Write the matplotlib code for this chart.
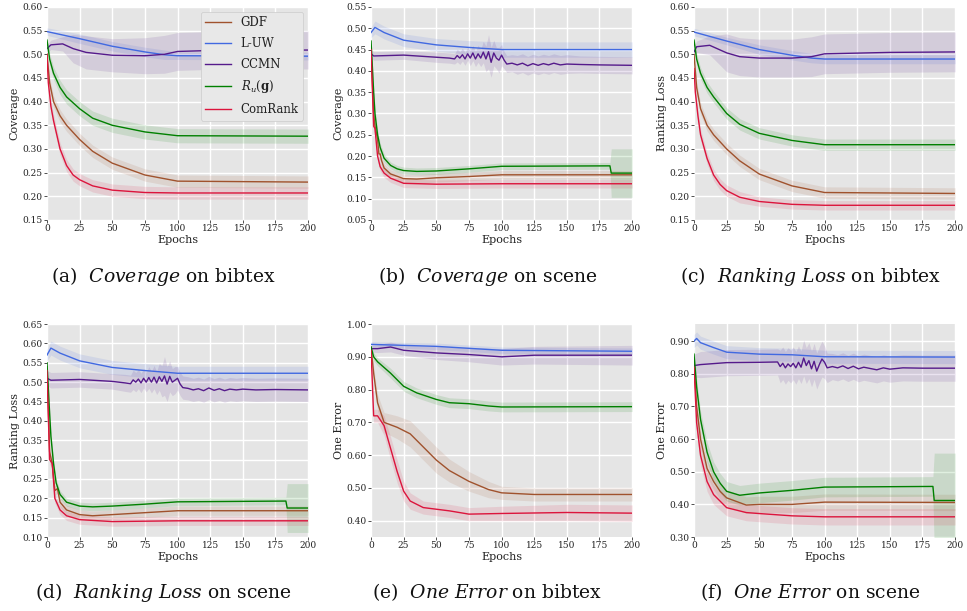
import numpy as np
import matplotlib
matplotlib.use("Agg")
import matplotlib.pyplot as plt

plt.style.use("ggplot")
plt.rcParams["font.family"] = ["DejaVu Serif"]
plt.rcParams["mathtext.fontset"] = "dejavuserif"

methods = ["GDF", "L-UW", "CCMN", r"$R_u(\mathbf{g})$", "ComRank"]
colors = ["#A0522D", "#4169E1", "#551A8B", "#008000", "#DC143C"]

# (epoch, mean, half width of shaded band)
# (a) Coverage on bibtex
a_gdf = [(0, .500, .010), (2, .440, .012), (5, .400, .012), (10, .370, .013), (15, .350, .013), (25, .320, .013),
         (35, .295, .013), (50, .270, .013), (75, .245, .013), (100, .232, .013), (200, .230, .013)]
a_luw = [(0, .548, .008), (25, .533, .010), (50, .517, .010), (75, .505, .010), (90, .499, .010), (100, .497, .008),
         (200, .496, .008)]
a_ccmn = [(0, .512, .008), (3, .520, .010), (12, .522, .015), (20, .512, .030), (30, .504, .035), (50, .498, .035),
          (75, .497, .038), (90, .500, .040), (100, .506, .040), (125, .508, .040), (200, .509, .040)]
a_ru = [(0, .530, .010), (2, .490, .012), (5, .460, .013), (10, .430, .015), (15, .410, .015), (25, .385, .015),
        (35, .365, .015), (50, .350, .015), (75, .336, .015), (100, .328, .015), (200, .327, .015)]
a_com = [(0, .500, .010), (1, .440, .012), (3, .390, .013), (5, .360, .013), (10, .300, .013), (15, .265, .013),
         (20, .245, .013), (25, .235, .013), (35, .222, .013), (50, .213, .013), (75, .208, .013), (100, .207, .013),
         (200, .207, .013)]

# (b) Coverage on scene
b_gdf = [(0, .450, .010), (2, .300, .012), (3, .270, .012), (5, .240, .012), (6, .205, .012), (7, .205, .012),
         (8, .190, .012), (10, .172, .010), (15, .158, .010), (25, .147, .010), (35, .146, .010), (50, .149, .010),
         (75, .152, .010), (100, .156, .010), (200, .156, .010)]
b_luw = [(0, .490, .012), (3, .502, .015), (10, .490, .015), (25, .472, .015), (50, .461, .015), (75, .455, .016),
         (100, .450, .018), (200, .450, .018)]
b_ccmn = [(0, .440, .010), (2, .435, .010), (25, .437, .010), (50, .432, .012), (60, .430, .012), (64, .428, .012),
          (66, .436, .015), (68, .430, .015), (70, .438, .015), (72, .428, .015), (74, .440, .015), (76, .430, .018),
          (78, .442, .018), (80, .428, .018), (82, .440, .020), (84, .430, .020), (86, .444, .025), (88, .428, .030),
          (90, .445, .040), (92, .420, .035), (94, .442, .030), (96, .430, .025), (98, .425, .030), (100, .437, .025),
          (102, .425, .020), (104, .416, .020), (108, .418, .020), (112, .414, .022), (116, .418, .022),
          (120, .412, .022), (124, .417, .022), (128, .413, .022), (132, .417, .022), (136, .414, .022),
          (140, .418, .022), (145, .414, .022), (150, .416, .022), (160, .415, .020), (175, .414, .020),
          (200, .413, .020)]
b_ru = [(0, .470, .010), (2, .350, .012), (3, .300, .012), (5, .250, .012), (7, .220, .010), (10, .195, .010),
        (15, .178, .008), (20, .170, .008), (25, .166, .008), (35, .164, .008), (50, .165, .008), (75, .170, .008),
        (100, .176, .008), (183, .177, .008), (184, .160, .057), (200, .160, .057)]
b_com = [(0, .450, .010), (2, .270, .012), (3, .265, .012), (5, .200, .012), (7, .175, .010), (10, .160, .010),
         (15, .148, .010), (25, .136, .010), (50, .134, .010), (100, .135, .010), (200, .135, .010)]

# (c) Ranking Loss on bibtex
c_gdf = [(0, .500, .010), (2, .430, .012), (5, .385, .012), (10, .350, .012), (15, .330, .012), (25, .300, .012),
         (35, .275, .012), (50, .247, .012), (75, .222, .012), (100, .208, .012), (200, .206, .012)]
c_luw = [(0, .547, .008), (25, .528, .008), (50, .510, .010), (75, .498, .010), (90, .492, .010), (100, .490, .010),
         (200, .490, .010)]
c_ccmn = [(0, .505, .010), (2, .516, .012), (12, .519, .020), (25, .503, .040), (35, .495, .040), (50, .492, .040),
          (75, .492, .040), (90, .495, .042), (100, .501, .042), (150, .504, .042), (200, .505, .042)]
c_ru = [(0, .530, .010), (2, .490, .012), (5, .460, .012), (10, .430, .012), (15, .410, .012), (25, .375, .012),
        (35, .352, .012), (50, .333, .012), (75, .318, .012), (100, .309, .012), (200, .309, .012)]
c_com = [(0, .470, .010), (1, .420, .012), (3, .370, .012), (5, .330, .012), (10, .280, .012), (15, .245, .012),
         (20, .225, .012), (25, .212, .012), (35, .198, .012), (50, .189, .010), (75, .183, .010), (100, .181, .010),
         (200, .181, .010)]

# (d) Ranking Loss on scene
d_gdf = [(0, .540, .010), (2, .320, .012), (4, .290, .012), (6, .220, .012), (8, .225, .012), (10, .190, .012),
         (15, .170, .012), (25, .158, .012), (35, .155, .012), (50, .158, .012), (75, .163, .012), (100, .168, .012),
         (200, .168, .012)]
d_luw = [(0, .570, .015), (3, .588, .018), (10, .575, .018), (25, .555, .018), (50, .538, .018), (75, .530, .018),
         (100, .523, .018), (200, .523, .018)]
d_ccmn = [(0, .510, .020), (3, .505, .020), (25, .507, .020), (50, .502, .020), (60, .498, .022), (64, .496, .022),
          (66, .506, .025), (68, .500, .025), (70, .508, .025), (72, .498, .025), (74, .510, .025), (76, .500, .025),
          (78, .512, .028), (80, .500, .028), (82, .513, .030), (84, .498, .030), (86, .514, .035), (88, .502, .040),
          (90, .516, .050), (92, .495, .045), (94, .515, .040), (96, .500, .035), (98, .505, .035), (100, .510, .030),
          (102, .495, .030), (104, .486, .030), (108, .484, .030), (112, .480, .030), (116, .483, .030),
          (120, .478, .030), (124, .485, .030), (128, .479, .030), (132, .483, .030), (136, .478, .030),
          (140, .482, .030), (145, .480, .030), (150, .482, .030), (160, .480, .030), (175, .481, .030),
          (200, .480, .030)]
d_ru = [(0, .550, .010), (2, .420, .012), (3, .360, .012), (5, .290, .012), (7, .240, .010), (10, .210, .010),
        (15, .190, .010), (25, .180, .010), (35, .178, .010), (50, .180, .010), (75, .185, .010), (100, .191, .010),
        (183, .193, .010), (184, .175, .063), (200, .175, .063)]
d_com = [(0, .530, .010), (2, .300, .012), (4, .290, .012), (6, .200, .012), (10, .170, .012), (15, .155, .012),
         (25, .145, .012), (50, .140, .012), (100, .142, .012), (200, .142, .012)]

# (e) One Error on bibtex
e_gdf = [(0, .930, .010), (2, .850, .020), (5, .760, .025), (10, .700, .030), (20, .685, .035), (30, .665, .040),
         (40, .625, .040), (50, .585, .040), (60, .553, .035), (75, .520, .030), (90, .495, .025), (100, .485, .020),
         (125, .480, .020), (200, .480, .020)]
e_luw = [(0, .938, .008), (50, .932, .010), (100, .920, .010), (200, .917, .010)]
e_ccmn = [(0, .925, .010), (5, .925, .012), (15, .930, .015), (25, .920, .015), (50, .912, .020), (75, .907, .022),
          (100, .900, .025), (125, .905, .027), (200, .905, .030)]
e_ru = [(0, .930, .010), (2, .900, .012), (5, .885, .012), (15, .850, .015), (25, .810, .015), (35, .790, .015),
        (50, .770, .015), (60, .760, .015), (75, .757, .015), (90, .750, .015), (100, .747, .015), (200, .748, .015)]
e_com = [(0, .920, .010), (2, .720, .020), (5, .720, .020), (10, .690, .030), (15, .620, .035), (20, .550, .035),
         (25, .490, .030), (30, .460, .025), (40, .440, .020), (50, .435, .020), (60, .430, .020), (75, .420, .020),
         (100, .422, .022), (150, .425, .025), (200, .423, .025)]

# (f) One Error on scene
f_gdf = [(0, .840, .020), (2, .700, .025), (5, .600, .025), (10, .510, .025), (15, .470, .025), (20, .440, .025),
         (25, .420, .025), (40, .398, .025), (50, .400, .025), (75, .400, .025), (100, .407, .025), (200, .406, .025)]
f_luw = [(0, .900, .020), (2, .908, .020), (5, .895, .020), (15, .880, .020), (25, .866, .020), (50, .860, .020),
         (75, .858, .020), (100, .852, .020), (200, .851, .020)]
f_ccmn = [(0, .825, .035), (5, .828, .040), (25, .834, .040), (50, .835, .040), (64, .836, .040), (66, .822, .050),
          (68, .832, .050), (70, .818, .050), (72, .830, .050), (74, .822, .050), (76, .832, .050), (78, .818, .050),
          (80, .835, .050), (82, .820, .050), (84, .848, .055), (86, .825, .055), (88, .840, .055), (90, .815, .055),
          (92, .838, .055), (94, .808, .055), (96, .828, .055), (98, .845, .055), (100, .835, .050),
          (102, .818, .045), (106, .822, .040), (110, .818, .040), (114, .824, .040), (118, .816, .040),
          (122, .823, .040), (126, .815, .040), (130, .820, .040), (135, .816, .040), (140, .812, .040),
          (145, .818, .040), (150, .814, .040), (160, .818, .040), (175, .817, .040), (200, .817, .040)]
f_ru = [(0, .860, .020), (2, .760, .025), (5, .660, .025), (10, .560, .030), (15, .500, .030), (20, .465, .030),
        (25, .440, .030), (35, .428, .030), (50, .435, .030), (75, .443, .030), (100, .453, .030), (183, .455, .030),
        (184, .412, .145), (200, .412, .145)]
f_com = [(0, .820, .025), (2, .650, .030), (5, .550, .030), (10, .470, .030), (15, .430, .030), (25, .390, .025),
         (40, .375, .025), (50, .372, .025), (75, .365, .025), (100, .362, .025), (200, .362, .025)]

panels = [
    ([a_gdf, a_luw, a_ccmn, a_ru, a_com], "Coverage", (0.15, 0.60), np.arange(0.15, 0.601, 0.05),
     "(a)  $\\mathit{Coverage}$ on bibtex"),
    ([b_gdf, b_luw, b_ccmn, b_ru, b_com], "Coverage", (0.05, 0.55), np.arange(0.05, 0.551, 0.05),
     "(b)  $\\mathit{Coverage}$ on scene"),
    ([c_gdf, c_luw, c_ccmn, c_ru, c_com], "Ranking Loss", (0.15, 0.60), np.arange(0.15, 0.601, 0.05),
     "(c)  $\\mathit{Ranking\\ Loss}$ on bibtex"),
    ([d_gdf, d_luw, d_ccmn, d_ru, d_com], "Ranking Loss", (0.10, 0.65), np.arange(0.10, 0.651, 0.05),
     "(d)  $\\mathit{Ranking\\ Loss}$ on scene"),
    ([e_gdf, e_luw, e_ccmn, e_ru, e_com], "One Error", (0.35, 1.00), np.arange(0.40, 1.001, 0.10),
     "(e)  $\\mathit{One\\ Error}$ on bibtex"),
    ([f_gdf, f_luw, f_ccmn, f_ru, f_com], "One Error", (0.30, 0.952), np.arange(0.30, 0.901, 0.10),
     "(f)  $\\mathit{One\\ Error}$ on scene"),
]

fig = plt.figure(figsize=(9.67, 6.11), dpi=100)
fig.patch.set_facecolor("white")

lefts = [0.0486, 0.3837, 0.7177]
bottoms = [0.640, 0.121]
w, h = 0.270, 0.3486

for i, (series, ylab, ylim, yticks, caption) in enumerate(panels):
    row, col = divmod(i, 3)
    ax = fig.add_axes([lefts[col], bottoms[row], w, h])
    ax.set_facecolor("#E5E5E5")
    for s, name, c in zip(series, methods, colors):
        arr = np.array(s)
        ep, m, hw = arr[:, 0], arr[:, 1], arr[:, 2]
        ax.fill_between(ep, m - hw, m + hw, color=c, alpha=0.12, linewidth=0)
        ax.plot(ep, m, color=c, lw=1.0, label=name)
    ax.set_xlim(0, 200)
    ax.set_ylim(*ylim)
    ax.set_xticks(np.arange(0, 201, 25))
    ax.set_yticks(yticks)
    ax.set_yticklabels(["%.2f" % t for t in yticks])
    ax.grid(True, color="white", lw=1.0)
    ax.tick_params(labelsize=6.5, colors="#333333", length=2, width=0.6, pad=1)
    ax.tick_params(labelcolor="#222222")
    ax.set_xlabel("Epochs", fontsize=8, color="#222222", labelpad=1)
    ax.set_ylabel(ylab, fontsize=8, color="#222222", labelpad=2)
    for sp in ax.spines.values():
        sp.set_visible(False)
    if i == 0:
        leg = ax.legend(loc="upper right", fontsize=8.5, frameon=True, facecolor="#E8E8E8",
                        edgecolor="#CCCCCC", framealpha=1.0, handlelength=2.2, labelspacing=0.65,
                        borderaxespad=0.4)
        for t in leg.get_texts():
            t.set_color("#222222")
    cx = lefts[col] + w / 2 - 14 / 967
    cy = 0.547 if row == 0 else 0.031
    fig.text(cx, cy, caption, ha="center", va="center", fontsize=13.5, color="#111111")

fig.savefig("out.png", dpi=100)
